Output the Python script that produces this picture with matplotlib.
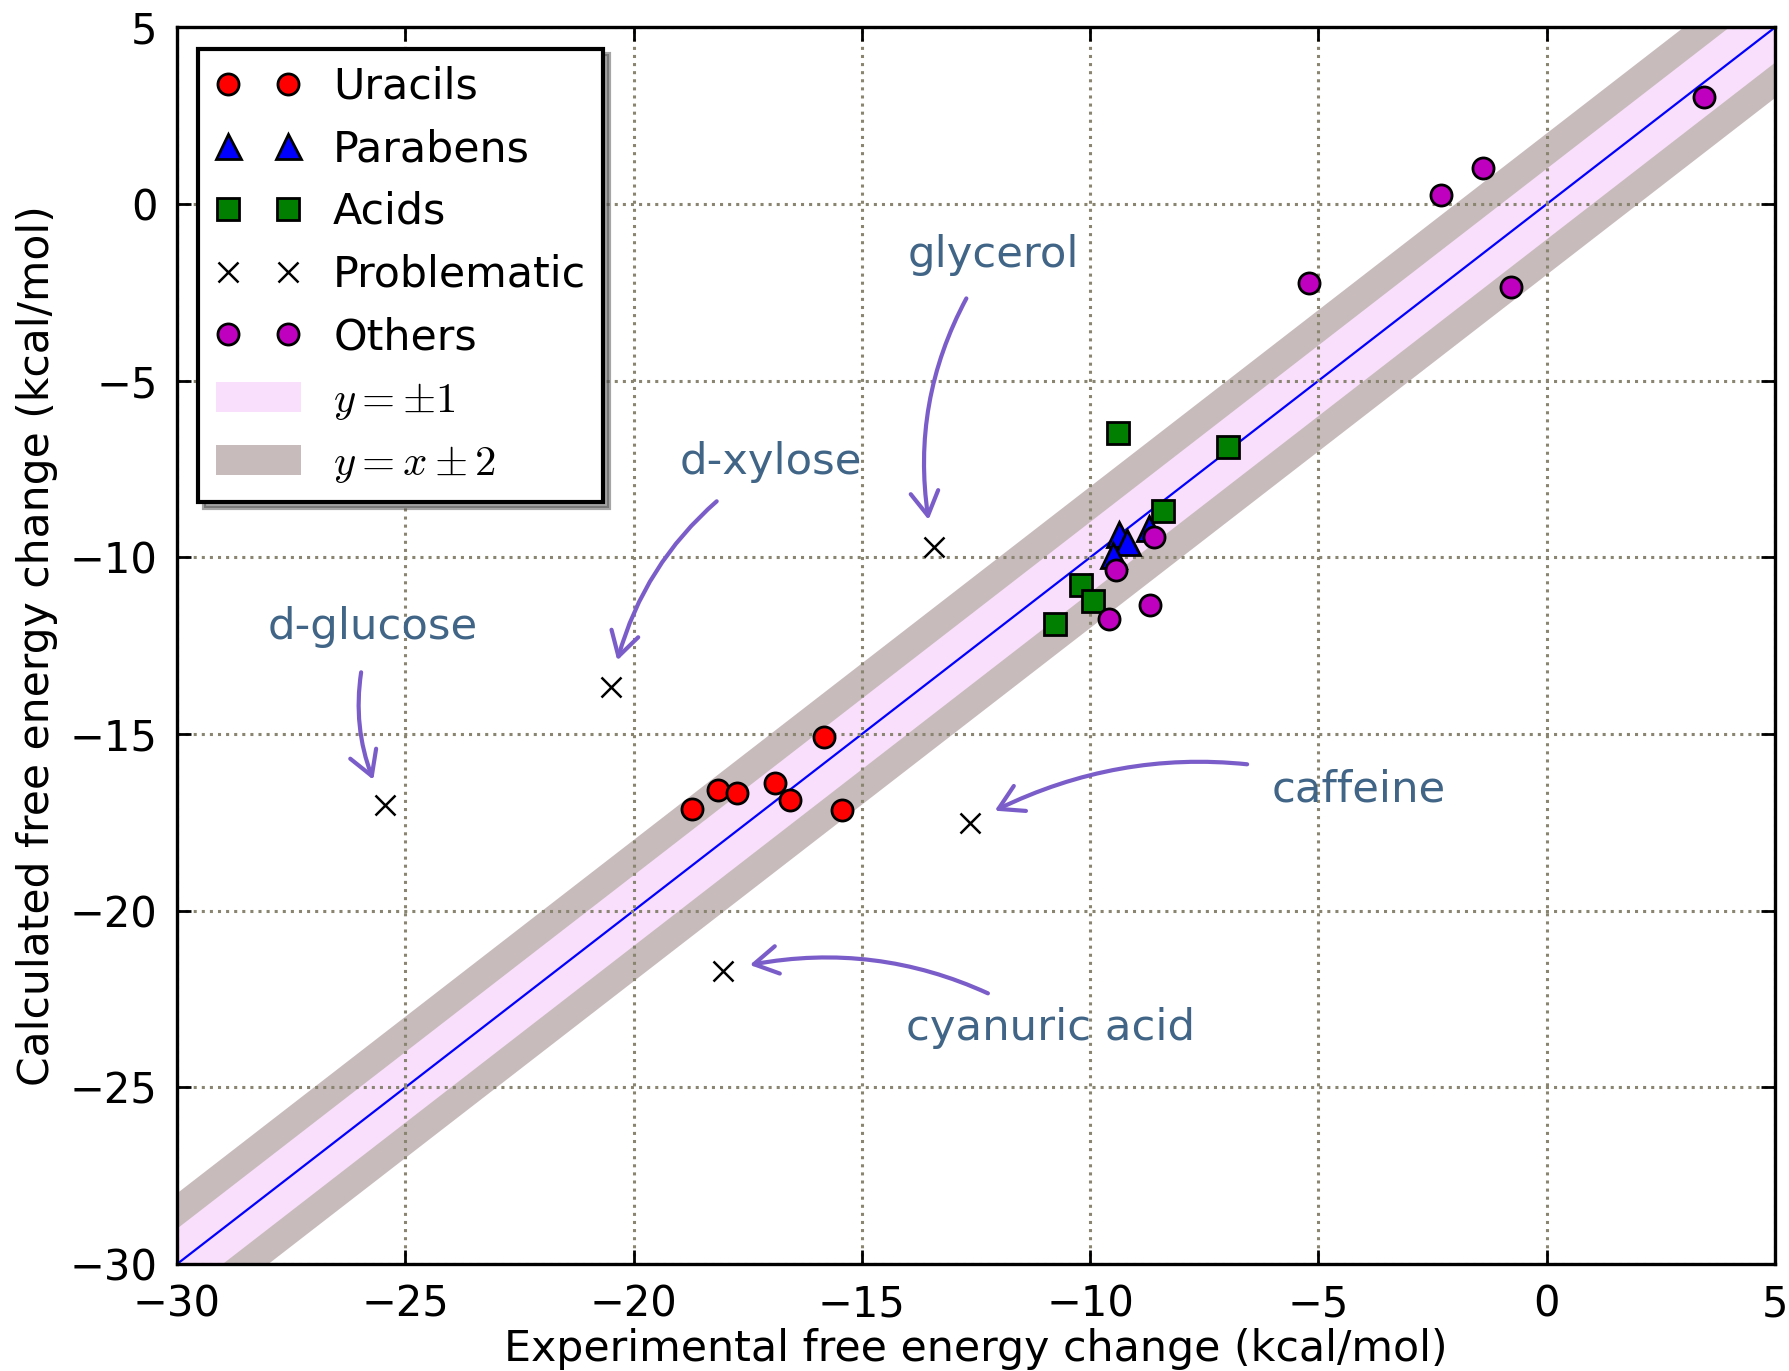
import numpy as np
import matplotlib
matplotlib.use("Agg")
import matplotlib.pyplot as plt
from matplotlib.patches import Patch
from matplotlib.lines import Line2D

plt.rcParams['font.family'] = ['DejaVu Sans']
plt.rcParams['mathtext.fontset'] = 'cm'

# data (kcal/mol): experimental, calculated
uracil_x = [-18.71, -18.16, -17.73, -16.91, -16.57, -15.82, -15.44]
uracil_y = [-17.12, -16.59, -16.68, -16.39, -16.86, -15.08, -17.15]

paraben_x = [-9.37, -9.20, -9.49, -8.71]
paraben_y = [-9.33, -9.56, -9.94, -9.18]

acid_x = [-9.38, -6.99, -8.41, -10.20, -9.93, -10.77]
acid_y = [-6.48, -6.88, -8.69, -10.78, -11.24, -11.89]

probl_names = ["glycerol", "d-xylose", "d-glucose", "caffeine", "cyanuric acid"]
probl_x = [-13.43, -20.50, -25.45, -12.63, -18.05]
probl_y = [-9.71, -13.68, -17.01, -17.53, -21.70]
# where the names are written
label_x = [-12.12, -17.0, -25.71, -4.11, -10.87]
label_y = [-1.44, -7.31, -11.96, -16.56, -23.33]

other_x = [-5.21, -2.32, -1.40, -0.79, 3.44, -8.60, -9.44, -9.59, -8.69]
other_y = [-2.23, 0.26, 1.03, -2.35, 3.04, -9.43, -10.36, -11.73, -11.34]

lo, hi = -30, 5

fig = plt.figure(figsize=(8.95, 6.855), dpi=200)
ax = fig.add_axes([0.0989, 0.078, 0.8927, 0.902])

diag = np.array([lo - 3, hi + 3])
ax.fill_between(diag, diag - 2, diag + 2, color="#c8bbbc", lw=0, zorder=1)
ax.fill_between(diag, diag - 1, diag + 1, color="#f9dffb", lw=0, zorder=1.1)
ax.plot(diag, diag, color="blue", lw=0.8, zorder=1.2)

ax.grid(True, linestyle=":", color="#8a8570", lw=1.1, zorder=1.5)

mk = dict(linestyle="none", markeredgecolor="black", markeredgewidth=1.0, zorder=3)
ax.plot(uracil_x, uracil_y, "o", color="red", markersize=7.6, **mk)
ax.plot(paraben_x, paraben_y, "^", color="blue", markersize=9, **mk)
ax.plot(acid_x, acid_y, "s", color="#007f00", markersize=7.6, **mk)
ax.plot(probl_x, probl_y, "x", color="black", markersize=7.5, markeredgewidth=0.9,
        linestyle="none", zorder=3)
ax.plot(other_x, other_y, "o", color="#bf00bf", markersize=7.6, **mk)

for name, px, py, tx, ty in zip(probl_names, probl_x, probl_y, label_x, label_y):
    ax.annotate(name, xy=(px, py), xytext=(tx, ty), ha="center", va="center",
                fontsize=15.6, color="#416586", zorder=4,
                arrowprops=dict(arrowstyle="->,head_length=0.55,head_width=0.32",
                                connectionstyle="arc3,rad=0.22", color="#7b5dc9",
                                lw=1.5, shrinkA=7, shrinkB=10))

ax.set_xlim(lo, hi)
ax.set_ylim(lo, hi)
ax.set_xticks(np.arange(lo, hi + 1, 5))
ax.set_yticks(np.arange(lo, hi + 1, 5))
ax.tick_params(direction="in", length=5, width=1, top=True, right=True,
               labelsize=15, pad=7)
for s in ax.spines.values():
    s.set_linewidth(1.2)

ax.set_xlabel("Experimental free energy change (kcal/mol)", fontsize=15.4, labelpad=1)
ax.set_ylabel("Calculated free energy change (kcal/mol)", fontsize=15.3, labelpad=4)

handles = [
    Line2D([], [], marker="o", color="red", **mk, markersize=7.6),
    Line2D([], [], marker="^", color="blue", **mk, markersize=9),
    Line2D([], [], marker="s", color="#007f00", **mk, markersize=7.6),
    Line2D([], [], marker="x", color="black", linestyle="none", markersize=7.5,
           markeredgewidth=0.9),
    Line2D([], [], marker="o", color="#bf00bf", **mk, markersize=7.6),
    Patch(facecolor="#f9dffb", edgecolor="none"),
    Patch(facecolor="#c8bbbc", edgecolor="none"),
]
labels = ["Uracils", "Parabens", "Acids", "Problematic", "Others",
          r"$y=\pm1$", r"$y=x\pm2$"]
leg = ax.legend(handles, labels, loc="upper left", numpoints=2, fontsize=15.4,
                fancybox=False, shadow=True, framealpha=1, borderaxespad=0.5,
                handlelength=2.0, labelspacing=0.48, handletextpad=0.75,
                borderpad=0.4)
leg.get_frame().set_edgecolor("black")
leg.get_frame().set_linewidth(1.5)
leg.set_zorder(10)

fig.savefig("out.png", dpi=200)
